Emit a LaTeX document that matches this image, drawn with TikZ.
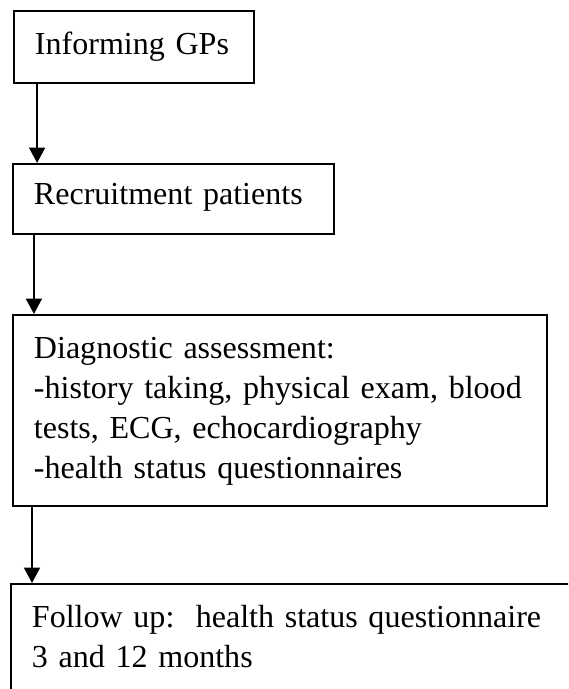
\documentclass[tikz,border=0pt]{standalone}
\usepackage{fontspec}
\setmainfont{Liberation Serif}
\usetikzlibrary{arrows.meta}
\tikzset{
	flowbox/.style={draw, line width=0.83pt, anchor=north west, align=left, inner xsep=8.7pt, inner ysep=0pt, text height=17.85pt, font=\fontsize{13.3}{16.6}\selectfont},
	flowarrow/.style={line width=0.83pt, -{Triangle[width=6.6pt, length=6.4pt]}}
}
\begin{document}
\begin{tikzpicture}[x=0.415pt, y=-0.415pt]
	\clip (0,0) rectangle (568,689);
	\node[flowbox, minimum width=99.6pt, text width=82.2pt, text depth=12pt] at (13,10) (informing-gps) {Informing GPs};
	\node[flowbox, minimum width=133.2pt, text width=115.8pt, text height=16.6pt, text depth=12.45pt] at (12,163) (recruitment) {Recruitment patients};
	\node[flowbox, minimum width=221.6pt, text width=204.2pt, text depth=61.4pt] at (12,314) (assessment) {Diagnostic assessment:\\-history taking, physical exam, blood\\tests, ECG, echocardiography\\-health status questionnaires};
	\node[flowbox, minimum width=249pt, text width=231.6pt, text depth=39pt] at (10,583) (follow-up) {Follow up:\ \ health status questionnaire\\3 and 12 months};

	\draw[flowarrow] ([xshift=10pt]informing-gps.south west) -- ([xshift=10pt]informing-gps.south west |- recruitment.north);
	\draw[flowarrow] ([xshift=9.1pt]recruitment.south west) -- ([xshift=9.1pt]recruitment.south west |- assessment.north);
	\draw[flowarrow] ([xshift=8.3pt]assessment.south west) -- ([xshift=8.3pt]assessment.south west |- follow-up.north);
\end{tikzpicture}
\end{document}
